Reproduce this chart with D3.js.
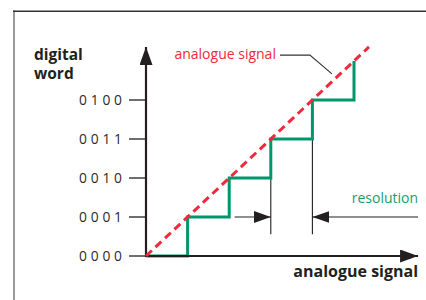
<!DOCTYPE html>
<html><head><meta charset="utf-8">
<script src="https://cdn.jsdelivr.net/npm/d3@7"></script>
<style>html,body{margin:0;padding:0;background:#fff;}svg{display:block;}</style>
</head><body>
<div id="chart"></div>
<script>
// ---- data ----
const codeLabels = ["0000", "0001", "0010", "0011", "0100"];
const codeLevels = [0, 1, 2, 3, 4];
const stepEdges = [0, 1, 2, 3, 4, 5];          // analogue thresholds where code changes
const stepCodes = [0, 1, 2, 3, 4, 5];          // digital word after each threshold
const analogueLine = [[0, 0], [5.36, 5.36]];
const xAxisMax = 6.54, yAxisMax = 5.36;
const resolutionFrom = 3, resolutionTo = 4, resolutionLevel = 1, resolutionBottom = 0.56;
const resolutionArrowLeftStart = 2.13;
const labelLeader = [[3.22, 5.15], [3.94, 5.15], [4.47, 4.67]];
const xTitle = "analogue signal", yTitle = ["digital", "word"];
const signalLabel = "analogue signal", resolutionLabel = "resolution";

// ---- layout ----
const W = 426, H = 300;
const x = d3.scaleLinear().domain([0, 1]).range([146, 187.6]);
const y = d3.scaleLinear().domain([0, 1]).range([256, 217]);
const ink = "#231f20", green = "#00966b", red = "#ee2a3c";

const svg = d3.select("#chart").append("svg").attr("width", W).attr("height", H)
  .style("font-family", "'Open Sans', sans-serif");

const defs = svg.append("defs");
function marker(id, w, h) {
  defs.append("marker").attr("id", id).attr("viewBox", `0 0 ${w} ${h}`)
    .attr("refX", w).attr("refY", h / 2).attr("markerWidth", w).attr("markerHeight", h)
    .attr("markerUnits", "userSpaceOnUse").attr("orient", "auto")
    .append("path").attr("d", `M0,0L${w},${h / 2}L0,${h}Z`).attr("fill", ink);
}
marker("axisHead", 18, 13);
marker("resHead", 17, 12);

// frame
svg.append("line").attr("x1", 14).attr("x2", 14).attr("y1", 10.5).attr("y2", H)
  .attr("stroke", "#9a9a9a").attr("stroke-width", 2);
svg.append("line").attr("x1", 13).attr("x2", W).attr("y1", 11.3).attr("y2", 11.3)
  .attr("stroke", "#333").attr("stroke-width", 1.6);

// y ticks + labels
const gy = svg.append("g");
gy.selectAll("line.tick").data(codeLevels).join("line").attr("class", "tick")
  .attr("x1", 129).attr("x2", x(0)).attr("y1", d => y(d)).attr("y2", d => y(d))
  .attr("stroke", ink).attr("stroke-width", 1.3);
gy.selectAll("text").data(codeLevels).join("text")
  .attr("x", 79).attr("y", d => y(d) + 5)
  .attr("font-size", 13.8).attr("letter-spacing", 3.8).attr("fill", "#2a2a2a")
  .text((d, i) => codeLabels[i]);

// resolution guides
const gr = svg.append("g");
gr.append("line").attr("x1", x(resolutionFrom)).attr("x2", x(resolutionFrom))
  .attr("y1", y(resolutionFrom - 1)).attr("y2", y(resolutionBottom)).attr("stroke", ink).attr("stroke-width", 1.1);
gr.append("line").attr("x1", x(resolutionTo)).attr("x2", x(resolutionTo))
  .attr("y1", y(resolutionTo - 1)).attr("y2", y(resolutionBottom)).attr("stroke", ink).attr("stroke-width", 1.1);
gr.append("line").attr("x1", x(resolutionArrowLeftStart)).attr("x2", x(resolutionFrom))
  .attr("y1", y(resolutionLevel)).attr("y2", y(resolutionLevel))
  .attr("stroke", ink).attr("stroke-width", 1.1).attr("marker-end", "url(#resHead)");
gr.append("line").attr("x1", x(xAxisMax)).attr("x2", x(resolutionTo))
  .attr("y1", y(resolutionLevel)).attr("y2", y(resolutionLevel))
  .attr("stroke", ink).attr("stroke-width", 1.1).attr("marker-end", "url(#resHead)");
svg.append("text").attr("x", x(xAxisMax)).attr("y", 202.5).attr("text-anchor", "end")
  .attr("font-size", 14).attr("fill", "#1a9a6c").text(resolutionLabel);

// staircase
const stairPts = [[stepEdges[0], 0]];
stepEdges.forEach((e, i) => {
  if (i > 0) { stairPts.push([e, stepCodes[i - 1]]); stairPts.push([e, stepCodes[i]]); }
});
svg.append("path").datum(stairPts)
  .attr("d", d3.line().x(d => x(d[0])).y(d => y(d[1])))
  .attr("fill", "none").attr("stroke", green).attr("stroke-width", 3).attr("stroke-linejoin", "miter");

// axes
svg.append("line").attr("x1", x(0)).attr("x2", x(0)).attr("y1", y(0) + 1).attr("y2", y(yAxisMax))
  .attr("stroke", ink).attr("stroke-width", 2.2).attr("marker-end", "url(#axisHead)");
svg.append("line").attr("x1", x(0) - 1).attr("x2", x(xAxisMax)).attr("y1", y(0)).attr("y2", y(0))
  .attr("stroke", ink).attr("stroke-width", 2.2).attr("marker-end", "url(#axisHead)");

// analogue line
svg.append("path").datum(analogueLine)
  .attr("d", d3.line().x(d => x(d[0])).y(d => y(d[1])))
  .attr("fill", "none").attr("stroke", red).attr("stroke-width", 3).attr("stroke-dasharray", "8,5");

// leader + label
svg.append("path").datum(labelLeader)
  .attr("d", d3.line().x(d => x(d[0])).y(d => y(d[1])))
  .attr("fill", "none").attr("stroke", "#333").attr("stroke-width", 1.1);
svg.append("text").attr("x", x(labelLeader[0][0]) - 4).attr("y", 58.5).attr("text-anchor", "end")
  .attr("font-size", 14).attr("fill", red).text(signalLabel);

// titles
svg.append("text").attr("x", x(xAxisMax)).attr("y", 277).attr("text-anchor", "end")
  .attr("font-size", 16).attr("font-weight", "bold").attr("fill", ink).text(xTitle);
const yt = svg.append("g").attr("font-size", 15.5).attr("font-weight", "bold").attr("fill", ink);
yt.selectAll("text").data(yTitle).join("text")
  .attr("x", 34).attr("y", (d, i) => 60 + i * 18.5).text(d => d);
</script>
</body></html>
